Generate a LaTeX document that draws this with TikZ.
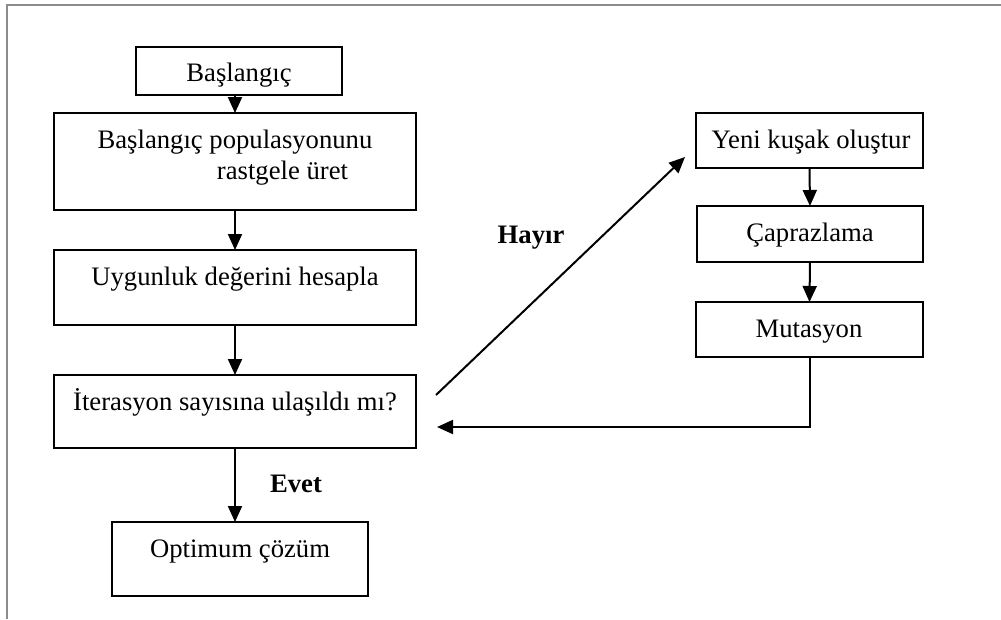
\documentclass[tikz,border=0pt]{standalone}
\usepackage{fontspec}
\setmainfont{Liberation Serif}
\usetikzlibrary{arrows.meta}
\begin{document}
\begin{tikzpicture}[x=0.75pt,y=-0.75pt,
  box/.style 2 args={draw, line width=1.3pt, minimum width=#1*0.75pt, minimum height=#2*0.75pt, inner sep=0pt, outer sep=0pt},
  txt/.style={anchor=base, inner sep=0pt, font=\fontsize{20}{24}\selectfont},
  lbl/.style={anchor=base, inner sep=0pt, font=\fontsize{20}{24}\selectfont\bfseries},
  arr/.style={line width=1.5pt, line join=miter, -{Triangle[length=12pt,width=10.5pt]}}]
\useasboundingbox (0,0) rectangle (1001,619);
% outer frame
\draw[line width=1.3pt, color=black!45] (7,619) -- (7,5) -- (1001,5);
% boxes
\node[box={206}{48}] (b1) at (239,71) {};
\node[box={362}{97}] (b2) at (235,161.5) {};
\node[box={362}{75}] (b3) at (235,287.5) {};
\node[box={362}{73}] (b4) at (235,411.5) {};
\node[box={256}{74}] (b5) at (240,559) {};
\node[box={227}{55}] (b6) at (809.5,140.5) {};
\node[box={226}{56}] (b7) at (810,234) {};
\node[box={227}{55}] (b8) at (809.5,329.5) {};
% texts
\node[txt] (t1) at (239,81) {Başlangıç};
\node[txt] (t2a) at (235,148) {Başlangıç populasyonunu};
\node[txt] (t2b) at (282.5,179) {rastgele üret};
\node[txt] (t3) at (235,285) {Uygunluk değerini hesapla};
\node[txt] (t4) at (235,410) {İterasyon sayısına ulaşıldı mı?};
\node[txt] (t5) at (240,557) {Optimum çözüm};
\node[txt] (t6) at (811,148) {Yeni kuşak oluştur};
\node[txt] (t7) at (810,241) {Çaprazlama};
\node[txt] (t8) at (809,337) {Mutasyon};
\node[lbl] (evet) at (296,492) {Evet};
\node[lbl] (hayir) at (531,243) {Hayır};
% connectors
\draw[arr] (b1.south -| b2.north) -- (b2.north);
\draw[arr] (b2.south) -- (b3.north);
\draw[arr] (b3.south) -- (b4.north);
\draw[arr] (b4.south) -- (b4.south |- b5.north);
\draw[arr] (b6.south) -- (b7.north);
\draw[arr] (b7.south) -- (b8.north);
\coordinate (d1) at (436,395);
\coordinate (d2) at (685,157);
\draw[arr] (d1) -- (d2);
\coordinate (r1) at (437,427);
\draw[arr] (b8.south) |- (r1);
\end{tikzpicture}
\end{document}
